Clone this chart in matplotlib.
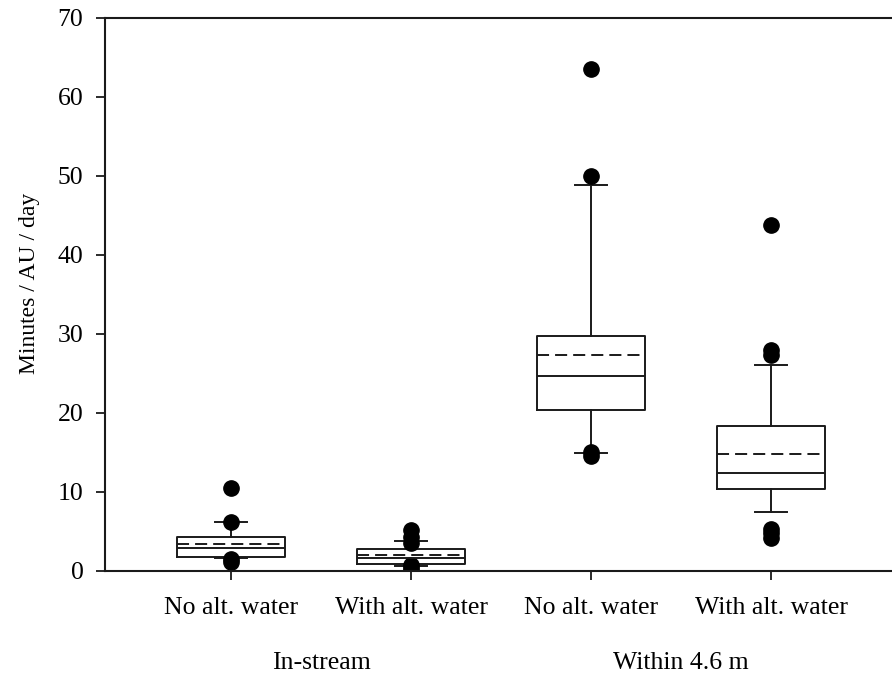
import matplotlib
matplotlib.use("Agg")
import matplotlib.pyplot as plt
import matplotlib.transforms as mtransforms

# box summaries, one entry per group
labels = ["No alt. water", "With alt. water", "No alt. water", "With alt. water"]
groups = ["In-stream", "Within 4.6 m"]
q1 = [1.77, 0.84, 20.34, 10.38]
medians = [2.87, 1.69, 24.68, 12.45]
q3 = [4.34, 2.78, 29.80, 18.30]
means = [3.46, 1.98, 27.34, 14.85]
whisker_lo = [1.60, 0.67, 14.90, 7.47]
whisker_hi = [6.24, 3.76, 48.86, 26.04]
fliers = [
    [10.47, 6.20, 1.55, 1.10],
    [5.19, 4.34, 3.55, 0.75, 0.35, 0.00],
    [63.60, 50.04, 15.00, 14.60],
    [43.80, 28.00, 27.40, 5.35, 4.80, 4.20],
]

plt.rcParams["font.family"] = ["Liberation Serif", "DejaVu Serif"]
ink = "#1a1a1a"

stats = []
for i in range(len(labels)):
    stats.append(dict(q1=q1[i], med=medians[i], q3=q3[i], mean=means[i],
                      whislo=whisker_lo[i], whishi=whisker_hi[i],
                      fliers=fliers[i], label=labels[i]))

fig = plt.figure(figsize=(8.92, 6.75), dpi=100)
ax = fig.add_axes([0.1177, 0.1541, 0.888, 0.8193])

lw = 1.4
ax.bxp(stats, positions=[1, 2, 3, 4], widths=0.6, capwidths=0.18,
       showmeans=True, meanline=True, showfliers=True,
       boxprops=dict(color=ink, linewidth=lw),
       medianprops=dict(color=ink, linewidth=lw),
       meanprops=dict(color=ink, linewidth=lw, linestyle=(0, (6.2, 3.1))),
       whiskerprops=dict(color=ink, linewidth=lw),
       capprops=dict(color=ink, linewidth=lw),
       flierprops=dict(marker="o", markersize=11, markerfacecolor="black",
                       markeredgecolor="black", linestyle="none"))

ax.set_xlim(0.3, 4.7)
ax.set_ylim(0, 70)
ax.set_yticks(range(0, 71, 10))
ax.set_xticks([1, 2, 3, 4])
ax.set_xticklabels(labels)

for s in ax.spines.values():
    s.set_linewidth(1.5)
    s.set_color(ink)
ax.tick_params(axis="both", direction="out", length=6.5, width=1.3,
               color=ink, labelsize=18.5)
ax.tick_params(axis="x", pad=12)
ax.tick_params(axis="y", pad=9)

ax.set_ylabel("Minutes / AU / day", fontsize=17, labelpad=12)
ax.yaxis.set_label_coords(-0.082, 0.52)

trans = mtransforms.blended_transform_factory(ax.transData, ax.transAxes)
ax.text(1.5, -0.166, groups[0], transform=trans, ha="center", va="center",
        fontsize=18.5)
ax.text(3.5, -0.166, groups[1], transform=trans, ha="center", va="center",
        fontsize=18.5)

fig.savefig("out.png", dpi=100)
